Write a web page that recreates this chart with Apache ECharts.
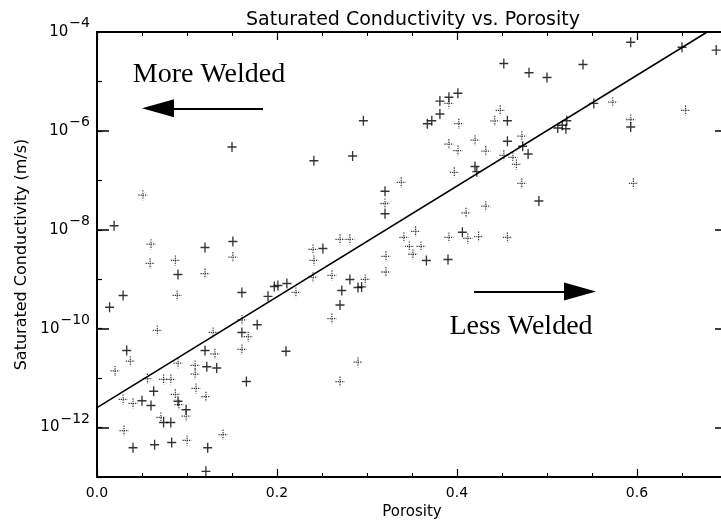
<!DOCTYPE html>
<html><head><meta charset="utf-8">
<script src="https://cdn.jsdelivr.net/npm/echarts@6/dist/echarts.min.js"></script>
<style>html,body{margin:0;padding:0;background:#fff}#c{width:721px;height:521px}</style>
</head><body><div id="c"></div>
<script>
// ---- data ----
const solidPorosity = [0.150,0.241,0.284,0.296,0.381,0.391,0.401,0.381,0.367,0.372,0.456,0.456,0.420,0.422,0.320,0.320,0.366,0.390,0.406,0.452,0.480,0.500,0.540,0.593,0.650,0.688,0.473,0.479,0.491,0.517,0.522,0.521,0.512,0.552,0.593,0.151,0.161,0.178,0.190,0.201,0.197,0.211,0.251,0.281,0.272,0.290,0.294,0.270,0.019,0.090,0.120,0.029,0.014,0.033,0.161,0.120,0.210,0.122,0.133,0.166,0.063,0.060,0.050,0.090,0.099,0.074,0.082,0.040,0.064,0.083,0.123,0.121];
const solidConductivity = [4.7e-7,2.5e-7,3.1e-7,1.6e-6,4.0e-6,4.8e-6,5.8e-6,2.2e-6,1.4e-6,1.6e-6,1.6e-6,6.2e-7,1.9e-7,1.5e-7,6.0e-8,2.1e-8,2.4e-9,2.5e-9,8.9e-9,2.3e-5,1.5e-5,1.2e-5,2.2e-5,6.2e-5,4.9e-5,4.3e-5,4.9e-7,3.4e-7,3.8e-8,1.3e-6,1.6e-6,1.1e-6,1.15e-6,3.6e-6,1.2e-6,5.8e-9,5.4e-10,1.2e-10,4.5e-10,7.5e-10,7.1e-10,8.2e-10,4.2e-9,9.9e-10,5.9e-10,6.8e-10,7.0e-10,3.0e-10,1.2e-8,1.25e-9,4.4e-9,4.7e-10,2.7e-10,3.6e-11,8.4e-11,3.6e-11,3.5e-11,1.7e-11,1.6e-11,8.5e-12,5.4e-12,2.8e-12,3.5e-12,3.4e-12,2.3e-12,1.26e-12,1.26e-12,3.9e-13,4.5e-13,5.0e-13,3.9e-13,1.3e-13];
const dottedPorosity = [0.391,0.402,0.391,0.401,0.420,0.432,0.448,0.442,0.452,0.397,0.338,0.320,0.410,0.432,0.354,0.341,0.347,0.360,0.351,0.321,0.391,0.412,0.424,0.456,0.321,0.298,0.290,0.270,0.472,0.462,0.466,0.472,0.573,0.593,0.654,0.596,0.151,0.161,0.221,0.240,0.241,0.240,0.261,0.270,0.281,0.261,0.051,0.060,0.059,0.087,0.120,0.089,0.067,0.037,0.020,0.129,0.168,0.131,0.161,0.090,0.109,0.109,0.074,0.082,0.056,0.110,0.121,0.040,0.029,0.087,0.091,0.099,0.071,0.030,0.100,0.140];
const dottedConductivity = [3.6e-6,1.4e-6,5.4e-7,4.0e-7,6.5e-7,3.9e-7,2.6e-6,1.6e-6,3.2e-7,1.45e-7,9.1e-8,3.4e-8,2.2e-8,3.0e-8,9.3e-9,7.0e-9,4.6e-9,4.6e-9,3.2e-9,2.9e-9,7.0e-9,6.7e-9,7.3e-9,7.0e-9,1.4e-9,9.9e-10,2.1e-11,8.5e-12,7.8e-7,2.9e-7,2.1e-7,8.7e-8,3.8e-6,1.7e-6,2.6e-6,8.7e-8,2.8e-9,1.5e-10,5.4e-10,4.0e-9,2.4e-9,1.1e-9,1.2e-9,6.4e-9,6.4e-9,1.6e-10,5.0e-8,5.1e-9,2.1e-9,2.4e-9,1.3e-9,4.7e-10,9.2e-11,2.2e-11,1.4e-11,8.4e-11,6.9e-11,3.1e-11,3.8e-11,2.0e-11,1.8e-11,1.2e-11,9.4e-12,9.4e-12,9.8e-12,6.2e-12,4.2e-12,3.1e-12,3.7e-12,4.7e-12,2.9e-12,1.7e-12,1.6e-12,8.7e-13,5.5e-13,7.2e-13];
const fitPorosity = [0, 0.678];
const fitConductivity = [2.54e-12, 1e-4];
const xTickLabels = [0, 0.2, 0.4, 0.6];
const yLabelExponents = [-12, -10, -8, -6, -4];

// ---- chart ----
const FONT = '"DejaVu Sans", sans-serif';
const SERIF = '"Liberation Serif", "Times New Roman", serif';
const plus = 'path://M5,0L5,10M0,5L10,5';
const zip = (xs, ys) => xs.map((x, i) => [x, ys[i]]);

const chart = echarts.init(document.getElementById('c'), null, {renderer: 'canvas'});
const xBase = {type: 'value', min: 0, max: 0.7, splitLine: {show: false}};
const yLin = {type: 'value', min: -13, max: -4, splitLine: {show: false}};
const axLine = {show: true, onZero: false, lineStyle: {color: '#000', width: 2}};

chart.setOption({
  animation: false,
  grid: {left: 97, top: 32, right: -6, bottom: 44, containLabel: false, outerBoundsMode: 'none'},
  xAxis: [
    Object.assign({}, xBase, {position: 'bottom', interval: 0.05,
      axisLine: axLine,
      axisTick: {show: true, inside: true, length: 4, lineStyle: {color: '#000', width: 1}},
      axisLabel: {customValues: xTickLabels, formatter: v => Number(v).toFixed(1), margin: 9,
        fontSize: 14, fontFamily: FONT, color: '#000'},
      name: 'Porosity', nameLocation: 'middle', nameGap: 17,
      nameTextStyle: {fontSize: 15, fontFamily: FONT, color: '#000'}}),
    Object.assign({}, xBase, {position: 'bottom',
      axisLine: {show: false, onZero: false},
      axisTick: {show: true, inside: true, length: 8, customValues: xTickLabels, lineStyle: {color: '#000', width: 1.2}},
      axisLabel: {show: false}}),
    Object.assign({}, xBase, {position: 'top', interval: 0.05,
      axisLine: axLine,
      axisTick: {show: true, inside: true, length: 4, lineStyle: {color: '#000', width: 1}},
      axisLabel: {show: false}}),
    Object.assign({}, xBase, {position: 'top',
      axisLine: {show: false, onZero: false},
      axisTick: {show: true, inside: true, length: 8, customValues: xTickLabels, lineStyle: {color: '#000', width: 1.2}},
      axisLabel: {show: false}})
  ],
  yAxis: [
    {type: 'log', logBase: 10, min: 1e-13, max: 1e-4, position: 'left',
      axisLine: axLine, axisTick: {show: false}, axisLabel: {show: false}, splitLine: {show: false}},
    Object.assign({}, yLin, {position: 'left', interval: 1,
      axisLine: {show: false, onZero: false},
      axisTick: {show: true, inside: true, length: 5, lineStyle: {color: '#000', width: 1.2}},
      axisLabel: {show: false}}),
    Object.assign({}, yLin, {position: 'left',
      axisLine: {show: false, onZero: false},
      axisTick: {show: true, inside: true, length: 12, customValues: yLabelExponents, lineStyle: {color: '#000', width: 1.5}},
      axisLabel: {customValues: yLabelExponents, margin: 7,
        formatter: v => '{b|10}{s|\u2212' + Math.abs(v) + '}',
        rich: {
          b: {fontSize: 15, fontFamily: FONT, color: '#000', verticalAlign: 'middle', lineHeight: 15},
          s: {fontSize: 14, fontFamily: FONT, color: '#000', verticalAlign: 'middle', lineHeight: 14, padding: [0, 0, 17, 1]}
        }},
      name: 'Saturated Conductivity (m/s)', nameLocation: 'middle', nameGap: 64,
      nameTextStyle: {fontSize: 16, fontFamily: FONT, color: '#000'}}),
    Object.assign({}, yLin, {position: 'right',
      axisLine: axLine,
      axisTick: {show: true, inside: true, length: 12, customValues: yLabelExponents, lineStyle: {color: '#000', width: 1.5}},
      axisLabel: {show: false}})
  ],
  graphic: [
    {type: 'text', x: 413, y: 20, silent: true,
      style: {text: 'Saturated Conductivity vs. Porosity', fontSize: 19, fontFamily: FONT, fill: '#000', align: 'center', verticalAlign: 'middle'}},
    {type: 'text', x: 209, y: 74.5, silent: true,
      style: {text: 'More Welded', fontSize: 28, fontFamily: SERIF, fill: '#000', align: 'center', verticalAlign: 'middle'}},
    {type: 'text', x: 521, y: 326.5, silent: true,
      style: {text: 'Less Welded', fontSize: 28, fontFamily: SERIF, fill: '#000', align: 'center', verticalAlign: 'middle'}}
  ],
  series: [
    {type: 'line', name: 'fit', xAxisIndex: 0, yAxisIndex: 0, data: zip(fitPorosity, fitConductivity),
      showSymbol: false, symbol: 'none', silent: true, clip: true,
      lineStyle: {color: '#000', width: 1.5},
      markLine: {silent: true, symbol: ['none', 'triangle'], symbolSize: [18, 32], animation: false,
        label: {show: false}, lineStyle: {color: '#000', width: 2, type: 'solid'},
        data: [
          [{coord: [0.1844, 2.86e-6]}, {coord: [0.0678, 2.86e-6]}],
          [{coord: [0.4189, 5.66e-10]}, {coord: [0.5367, 5.66e-10]}]
        ]}},
    {type: 'scatter', name: 'dotted', xAxisIndex: 0, yAxisIndex: 0, data: zip(dottedPorosity, dottedConductivity),
      symbol: plus, symbolSize: [9, 10], silent: true,
      itemStyle: {color: 'rgba(0,0,0,0)', borderColor: '#000', borderWidth: 1.2, borderType: [1.3, 1]}},
    {type: 'scatter', name: 'solid', xAxisIndex: 0, yAxisIndex: 0, data: zip(solidPorosity, solidConductivity),
      symbol: plus, symbolSize: [9, 10], silent: true,
      itemStyle: {color: 'rgba(0,0,0,0)', borderColor: '#000', borderWidth: 1.4}}
  ]
});
</script></body></html>
